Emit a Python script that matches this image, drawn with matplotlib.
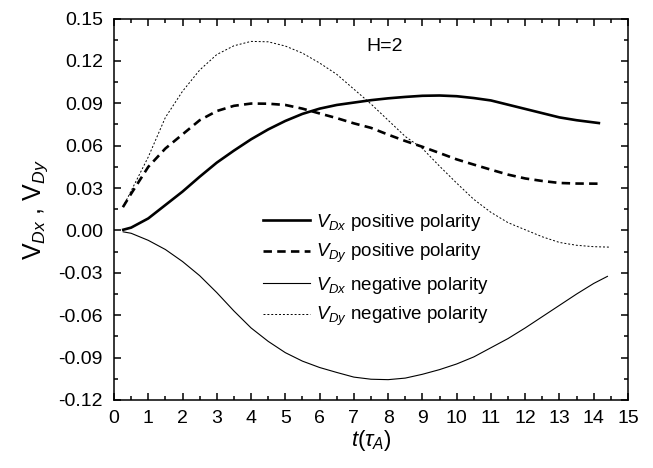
import matplotlib
matplotlib.use("Agg")
import matplotlib.pyplot as plt
from matplotlib.ticker import MultipleLocator, FormatStrFormatter

plt.rcParams['font.family'] = ['Liberation Sans', 'DejaVu Sans']
plt.rcParams['mathtext.fontset'] = 'custom'
plt.rcParams['mathtext.rm'] = 'Liberation Sans'
plt.rcParams['mathtext.it'] = 'Liberation Sans:italic'
plt.rcParams['mathtext.bf'] = 'Liberation Sans:bold'

# ---- data ----
t_vdx_pos = [0.27, 0.5, 1.0, 1.5, 2.0, 2.5, 3.0, 3.5, 4.0, 4.5, 5.0, 5.5, 6.0, 6.5, 7.0,
             7.5, 8.0, 8.5, 9.0, 9.5, 10.0, 10.5, 11.0, 11.5, 12.0, 12.5, 13.0, 13.5, 14.15]
vdx_pos = [0.0005, 0.002, 0.0085, 0.018, 0.0275, 0.038, 0.048, 0.0565, 0.0645, 0.0715,
           0.0775, 0.0825, 0.0862, 0.0888, 0.0905, 0.0922, 0.0935, 0.0945, 0.0953, 0.0955,
           0.095, 0.0937, 0.092, 0.089, 0.086, 0.083, 0.080, 0.078, 0.076]

t_vdy_pos = [0.26, 0.5, 1.0, 1.5, 2.0, 2.5, 3.0, 3.5, 4.0, 4.5, 5.0, 5.5, 6.0, 6.5, 7.0,
             7.5, 8.0, 8.5, 9.0, 9.5, 10.0, 10.5, 11.0, 11.5, 12.0, 12.5, 13.0, 13.5, 14.15]
vdy_pos = [0.0165, 0.026, 0.045, 0.058, 0.068, 0.078, 0.0845, 0.0882, 0.0898, 0.0897,
           0.0888, 0.0862, 0.0828, 0.0795, 0.0758, 0.0726, 0.0678, 0.0633, 0.0592, 0.0548,
           0.0503, 0.0466, 0.043, 0.0395, 0.0368, 0.035, 0.0336, 0.0332, 0.0331]

t_vdx_neg = [0.27, 0.5, 1.0, 1.5, 2.0, 2.5, 3.0, 3.5, 4.0, 4.5, 5.0, 5.5, 6.0, 6.5, 7.0,
             7.5, 8.0, 8.5, 9.0, 9.5, 10.0, 10.5, 11.0, 11.5, 12.0, 12.5, 13.0, 13.5, 14.0, 14.4]
vdx_neg = [-0.001, -0.002, -0.007, -0.0135, -0.022, -0.032, -0.044, -0.057, -0.069, -0.0785,
           -0.0865, -0.0925, -0.097, -0.1005, -0.1038, -0.1053, -0.1056, -0.1045, -0.1018,
           -0.0985, -0.0945, -0.0895, -0.083, -0.0765, -0.069, -0.061, -0.053, -0.045,
           -0.0375, -0.0325]

t_vdy_neg = [0.26, 0.5, 1.0, 1.5, 2.0, 2.5, 3.0, 3.5, 4.0, 4.5, 5.0, 5.5, 6.0, 6.5, 7.0,
             7.5, 8.0, 8.5, 9.0, 9.5, 10.0, 10.5, 11.0, 11.5, 12.0, 12.5, 13.0, 13.5, 14.0, 14.45]
vdy_neg = [0.0165, 0.028, 0.052, 0.080, 0.0985, 0.1135, 0.1245, 0.1307, 0.1338, 0.1335,
           0.1305, 0.1255, 0.1185, 0.1105, 0.100, 0.0895, 0.078, 0.0665, 0.058, 0.0455,
           0.0335, 0.022, 0.0128, 0.0055, 0.0005, -0.0045, -0.0085, -0.0105, -0.0115, -0.0118]

labels = [r'$V_{Dx}$ positive polarity', r'$V_{Dy}$ positive polarity',
          r'$V_{Dx}$ negative polarity', r'$V_{Dy}$ negative polarity']
x_ticks = list(range(0, 16))
y_ticks = [-0.12, -0.09, -0.06, -0.03, 0.00, 0.03, 0.06, 0.09, 0.12, 0.15]

# ---- figure ----
fig = plt.figure(figsize=(6.53, 4.68), dpi=100)
ax = fig.add_axes([114 / 653, 1 - 400 / 468, (628 - 114) / 653, (400 - 18.5) / 468])

ax.plot(t_vdx_pos, vdx_pos, color='black', lw=1.9, label=labels[0])
ax.plot(t_vdy_pos, vdy_pos, color='black', lw=1.9, dashes=(3.2, 2.0), label=labels[1])
ax.plot(t_vdx_neg, vdx_neg, color='black', lw=0.8, label=labels[2])
ax.plot(t_vdy_neg, vdy_neg, color='black', lw=0.7, dashes=(2.0, 2.0), label=labels[3])

ax.set_xlim(0, 15)
ax.set_ylim(-0.12, 0.15)
ax.set_xticks(x_ticks)
ax.set_yticks(y_ticks)
ax.yaxis.set_major_formatter(FormatStrFormatter('%.2f'))
ax.xaxis.set_minor_locator(MultipleLocator(0.5))
ax.yaxis.set_minor_locator(MultipleLocator(0.015))
ax.tick_params(which='both', direction='in', top=True, right=True, width=1.1)
ax.tick_params(which='major', length=5, labelsize=14)
ax.tick_params(which='minor', length=3)
ax.tick_params(axis='y', which='major', pad=8)
ax.tick_params(axis='x', which='major', pad=7)
for s in ax.spines.values():
    s.set_linewidth(1.1)

ax.set_xlabel(r'$t(\tau_A)$', fontsize=16, labelpad=1)
ax.set_ylabel(r'V$_{\mathit{Dx}}$ , V$_{\mathit{Dy}}$', fontsize=18, labelpad=6)

ax.text(7.9, 0.130, 'H=2', fontsize=14, ha='center', va='center')

leg = ax.legend(loc='center left', bbox_to_anchor=((263 - 114) / 514, (400 - 270) / 381.5),
                frameon=False, fontsize=13.5, handlelength=2.5, handletextpad=0.3,
                labelspacing=0.5, borderpad=0, borderaxespad=0)

fig.savefig('out.png', dpi=100)
